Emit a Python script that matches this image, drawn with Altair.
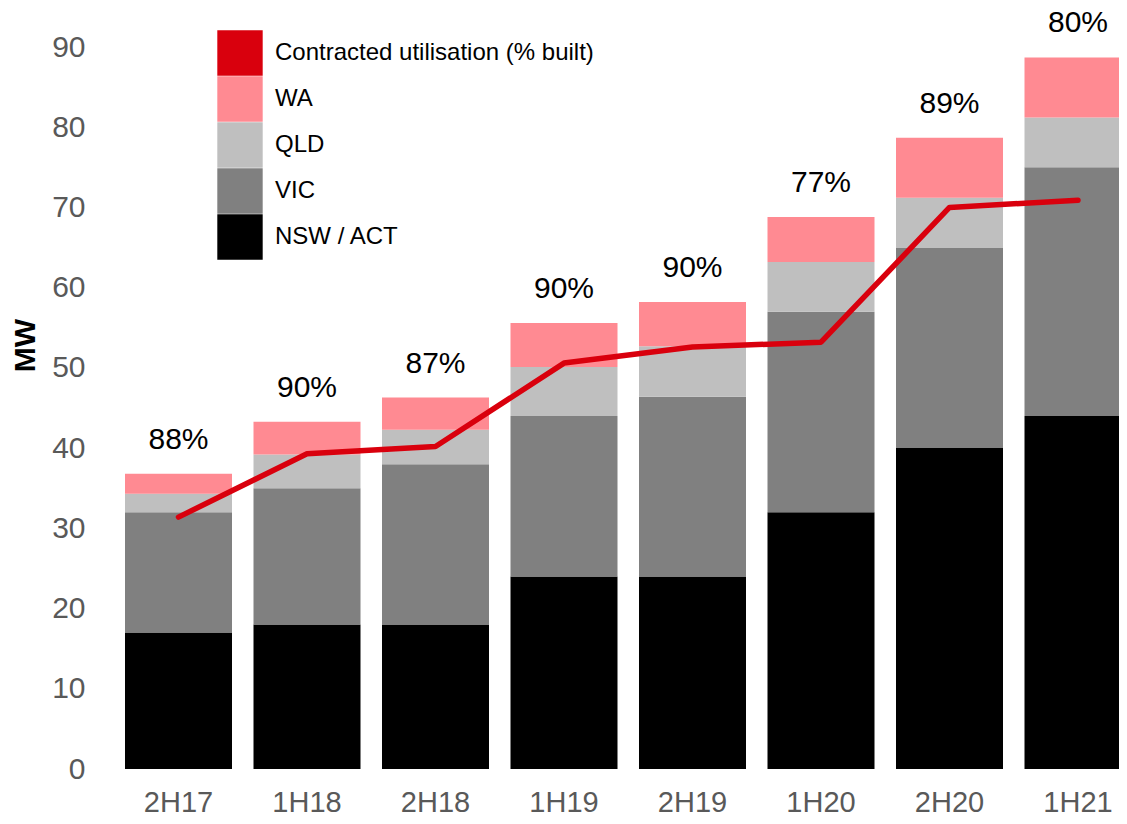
import altair as alt
import pandas as pd

periods = ["2H17", "1H18", "2H18", "1H19", "2H19", "1H20", "2H20", "1H21"]
nsw = [17, 18, 18, 24, 24, 32, 40, 44]
vic = [15, 17, 20, 20, 22.4, 25, 25, 31]
qld = [2.3, 4.2, 4.3, 6.1, 6.3, 6.2, 6.2, 6.2]
wa = [2.5, 4.1, 4.0, 5.5, 5.5, 5.6, 7.5, 7.5]
contracted = [31.4, 39.3, 40.2, 50.6, 52.6, 53.2, 70.0, 70.9]
pct_labels = ["88%", "90%", "87%", "90%", "90%", "77%", "89%", "80%"]

legend_names = ["Contracted utilisation (% built)", "WA", "QLD", "VIC", "NSW / ACT"]
legend_colors = ["#D9000D", "#FF8A92", "#BFBFBF", "#808080", "#000000"]

FONT = "Liberation Sans"

rows = []
for name, vals, o in [("NSW / ACT", nsw, 0), ("VIC", vic, 1), ("QLD", qld, 2), ("WA", wa, 3)]:
    for p, v in zip(periods, vals):
        rows.append({"period": p, "series": name, "value": v, "order": o})
bars_df = pd.DataFrame(rows)

totals = [a + b + c + d for a, b, c, d in zip(nsw, vic, qld, wa)]
top_df = pd.DataFrame({"period": periods, "total": totals, "label": pct_labels,
                       "contracted": contracted})

x_scale = alt.Scale(range=[0, 1028.5], paddingInner=0.1673, paddingOuter=0.0856)
y_scale = alt.Scale(domain=[0, 90], nice=False)

x_enc = alt.X("period:N", sort=periods, scale=x_scale,
              axis=alt.Axis(title=None, labelAngle=0, labelFontSize=29, labelColor="#595959",
                            labelPadding=19, ticks=False, domain=False, labelFont=FONT))

bars = alt.Chart(bars_df).mark_bar(strokeWidth=0).encode(
    x=x_enc,
    y=alt.Y("value:Q", stack="zero", scale=y_scale,
            axis=alt.Axis(values=list(range(0, 100, 10)), title="MW", titleFontSize=30,
                          titleFontWeight="bold", titleFont=FONT, titleColor="black",
                          titleAngle=270, titleX=-89, titleY=298, titleAlign="center",
                          titleBaseline="middle", labelFontSize=30, labelColor="#595959",
                          labelPadding=29, ticks=False, domain=False, grid=False,
                          labelFont=FONT)),
    color=alt.Color("series:N", scale=alt.Scale(domain=legend_names, range=legend_colors),
                    legend=alt.Legend(title=None, orient="none", legendX=103, legendY=-17,
                                      symbolType="square", symbolSize=2061,
                                      symbolStrokeWidth=0, symbolOpacity=1, rowPadding=0,
                                      labelFontSize=24, labelFont=FONT, labelColor="black",
                                      labelOffset=12, padding=0, labelLimit=600)),
    order=alt.Order("order:Q", sort="ascending"),
)

line = alt.Chart(top_df).mark_line(color="#D9000D", strokeWidth=5.5, strokeCap="round",
                                   strokeJoin="round").encode(
    x=alt.X("period:N", sort=periods),
    y=alt.Y("contracted:Q", scale=y_scale, title="MW"),
)

text = alt.Chart(top_df).mark_text(fontSize=30, font=FONT, color="black",
                                   baseline="alphabetic", dy=-25).encode(
    x=alt.X("period:N", sort=periods),
    y=alt.Y("total:Q", scale=y_scale, title="MW"),
    text="label:N",
)

chart = alt.layer(bars, line, text).properties(
    width=1005, height=722,
    autosize=alt.AutoSizeParams(type="none"),
    padding={"left": 106, "top": 39, "right": 0, "bottom": 47},
).configure_view(stroke=None)

chart.save("out.html", embed_options={"renderer": "svg", "actions": False})
